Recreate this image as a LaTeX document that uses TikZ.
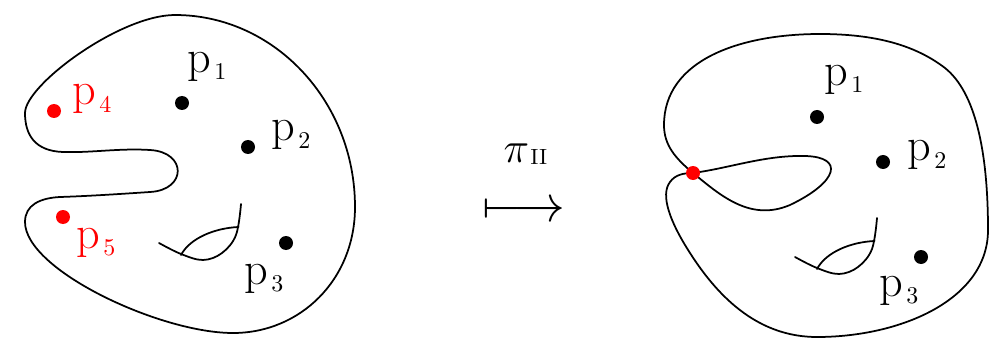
\documentclass[tikz,border=0pt]{standalone}
\usepackage{amsmath}
\newcommand\plab[1]{\fontsize{18.5}{20}\selectfont p\kern1.3pt\raisebox{-2.8pt}{\fontsize{9.6}{11}\selectfont #1}}
\begin{document}
\begin{tikzpicture}[x=0.4pt,y=-0.4pt,
  curve/.style={line width=0.7pt, line join=round, line cap=round},
  dot/.style={circle, fill=black, inner sep=0pt, minimum size=5.6pt},
  rdot/.style={dot, fill=red},
  lab/.style={anchor=base west, inner sep=0pt}]
\useasboundingbox (0,0) rectangle (999,339);

% ---------- left surface ----------
\draw[curve] (175,15)
  .. controls (274,15) and (355,101) .. (355,207)
  .. controls (355,280) and (300,333) .. (233,333)
  .. controls (160,333) and (25,270) .. (25,222)
  .. controls (25,205) and (40,198) .. (60,197)
  .. controls (90,196) and (120,194) .. (150,192)
  .. controls (187,190) and (187,152) .. (150,150)
  .. controls (120,148) and (90,153) .. (63,152)
  .. controls (35,151) and (25,135) .. (25,113)
  .. controls (25,85) and (120,15) .. cycle;
\draw[curve] plot[smooth, tension=0.6] coordinates {
  (159,243) (181,254) (203,260) (222,253) (236,235) (241,204)};
\draw[curve] (181,255) .. controls (190,238) and (215,228) .. (238.6,227);

\node[dot] (a1) at (182,103) {};
\node[dot] (a2) at (248,147) {};
\node[dot] (a3) at (286,243) {};
\node[rdot] (a4) at (54,111) {};
\node[rdot] (a5) at (63,217) {};
\node[lab] (la1) at (187,72.5) {\plab{1}};
\node[lab] (la2) at (271,141) {\plab{2}};
\node[lab] (la3) at (244,284) {\plab{3}};
\node[lab, text=red] (la4) at (72,105) {\plab{4}};
\node[lab, text=red] (la5) at (76,248) {\plab{5}};

% ---------- map ----------
\node[lab] (pi) at (503,163) {\fontsize{18.5}{20}\selectfont$\pi$\kern0.5pt\raisebox{-0.5pt}{\fontsize{8.8}{9}\selectfont II}};
\node[anchor=base, inner sep=0pt] (arr) at (524,221) {\fontsize{19.5}{21}\selectfont$\longmapsto$};

% ---------- right surface ----------
\draw[curve] (693,173)
  .. controls (730,168) and (765,155) .. (805,156)
  .. controls (845,157) and (838,182) .. (790,205)
  .. controls (750,222) and (720,195) .. (693,173)
  .. controls (675,158) and (664,145) .. (664,125)
  .. controls (664,60) and (740,34) .. (820,34)
  .. controls (875,34) and (915,45) .. (945,68)
  .. controls (975,92) and (988,150) .. (988,230)
  .. controls (988,300) and (900,337) .. (817,337)
  .. controls (760,337) and (720,300) .. (690,253)
  .. controls (670,222) and (660,195) .. (670,182)
  .. controls (675,175) and (683,173) .. cycle;
\begin{scope}[shift={(636,14)}]
\draw[curve] plot[smooth, tension=0.6] coordinates {
  (159,243) (181,254) (203,260) (222,253) (236,235) (241,204)};
\draw[curve] (181,255) .. controls (190,238) and (215,228) .. (238.6,227);
\end{scope}

\node[rdot] (b0) at (693,173) {};
\node[dot] (b1) at (817,117) {};
\node[dot] (b2) at (883,162) {};
\node[dot] (b3) at (921,257) {};
\node[lab] (lb1) at (824,86) {\plab{1}};
\node[lab] (lb2) at (907,161) {\plab{2}};
\node[lab] (lb3) at (879,296) {\plab{3}};
\end{tikzpicture}
\end{document}
